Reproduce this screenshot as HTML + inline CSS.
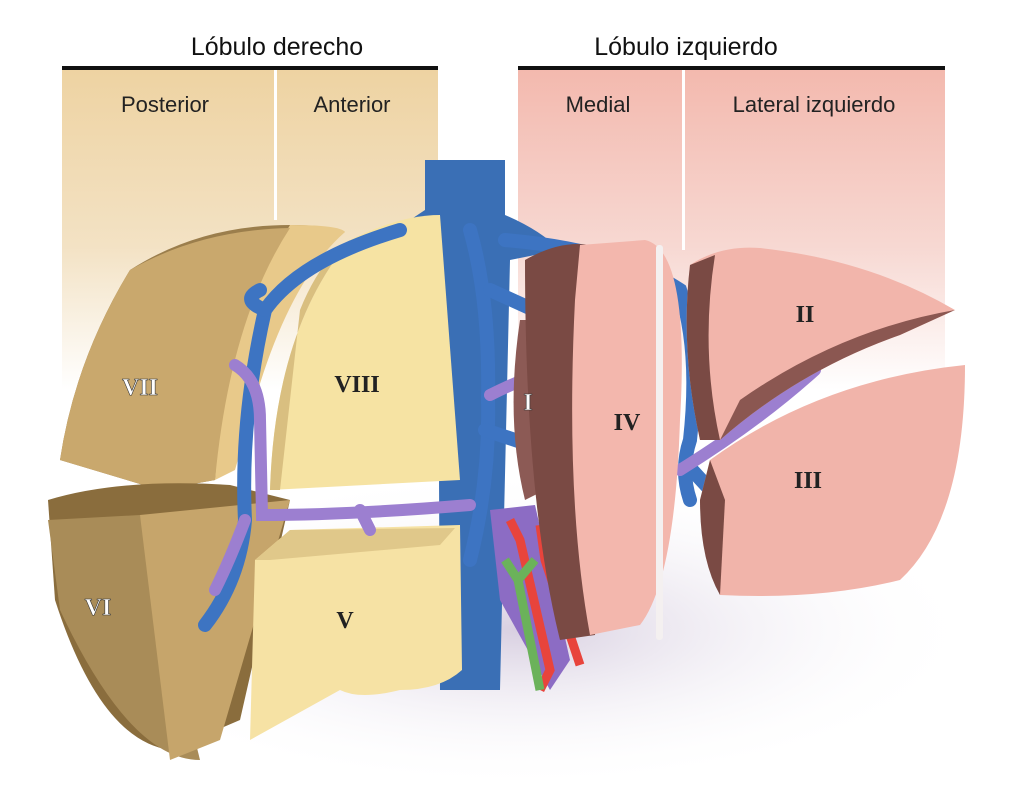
<!DOCTYPE html>
<html><head><meta charset="utf-8"><style>
html,body{margin:0;padding:0;background:#fff;width:1026px;height:800px;overflow:hidden}
svg{display:block}
text{font-family:"Liberation Sans",sans-serif}
.r{font-family:"Liberation Serif",serif;font-weight:bold;fill:#fff;font-size:24px;text-anchor:middle;stroke:#333;stroke-width:0.6}
.rd{font-family:"Liberation Serif",serif;font-weight:bold;fill:#222;font-size:24px;text-anchor:middle}
</style></head><body>
<svg width="1026" height="800" viewBox="0 0 1026 800">
<defs>
<linearGradient id="tan" x1="0" y1="0" x2="0" y2="1"><stop offset="0" stop-color="#eed3a2"/><stop offset="0.55" stop-color="#f3e2c4"/><stop offset="1" stop-color="#fff"/></linearGradient>
<linearGradient id="pnk" x1="0" y1="0" x2="0" y2="1"><stop offset="0" stop-color="#f3b9ae"/><stop offset="0.55" stop-color="#f7d8d2"/><stop offset="1" stop-color="#fff"/></linearGradient>
<radialGradient id="sh" cx="0.5" cy="0.5" r="0.5"><stop offset="0" stop-color="#b8a8c8" stop-opacity="0.55"/><stop offset="1" stop-color="#fff" stop-opacity="0"/></radialGradient>
</defs>
<rect x="62" y="70" width="376" height="320" fill="url(#tan)"/>
<rect x="518" y="70" width="427" height="320" fill="url(#pnk)"/>
<rect x="274" y="70" width="3" height="150" fill="#fff"/>
<rect x="682" y="70" width="3" height="180" fill="#fff"/>
<rect x="62" y="66" width="376" height="4" fill="#111"/>
<rect x="518" y="66" width="427" height="4" fill="#111"/>
<text x="277" y="55" font-size="25" text-anchor="middle" fill="#111">Lóbulo derecho</text>
<text x="686" y="55" font-size="25" text-anchor="middle" fill="#111">Lóbulo izquierdo</text>
<text x="165" y="112" font-size="22" text-anchor="middle" fill="#222">Posterior</text>
<text x="352" y="112" font-size="22" text-anchor="middle" fill="#222">Anterior</text>
<text x="598" y="112" font-size="22" text-anchor="middle" fill="#222">Medial</text>
<text x="814" y="112" font-size="22" text-anchor="middle" fill="#222">Lateral izquierdo</text>
<ellipse cx="520" cy="630" rx="460" ry="160" fill="url(#sh)"/>
<!-- IVC -->
<path d="M425 160 L505 160 L505 215 Q540 230 560 250 L510 260 L500 690 L440 690 L438 260 L380 240 Q410 220 425 210 Z" fill="#3a6fb5"/>
<!-- VII -->
<path d="M130 270 Q200 225 290 225 Q330 225 345 232 L300 245 Q240 320 215 480 L160 490 L60 460 Q75 360 130 270Z" fill="#9b7e4c"/>
<path d="M290 225 Q340 225 345 232 Q290 280 255 400 L235 470 L215 480 Q225 330 290 225Z" fill="#e8c98a"/>
<path d="M130 270 Q200 230 290 228 Q230 320 215 480 L160 490 L60 460 Q75 360 130 270Z" fill="#c9a86d"/>
<!-- VI -->
<path d="M48 500 Q120 478 230 485 L290 500 L240 720 L170 750 Q100 740 55 600Z" fill="#8a6d3d"/>
<path d="M48 520 L140 515 L200 760 Q130 760 60 610Z" fill="#a98c58"/>
<path d="M140 515 L290 500 L220 740 L170 760Z" fill="#c6a56b"/>
<!-- VIII -->
<path d="M350 240 Q400 215 440 215 L460 480 L270 490 Q275 330 350 240Z" fill="#f6e3a3"/>
<path d="M350 240 Q320 260 300 310 L280 490 L270 490 Q275 330 350 240Z" fill="#d9bf80"/>
<!-- V -->
<path d="M255 560 L290 530 L460 525 L462 670 Q440 690 400 690 Q360 700 340 690 L250 740Z" fill="#f6e2a4"/>
<path d="M255 560 L290 530 L455 528 L440 545 L270 560Z" fill="#e0c88a"/>
<!-- veins blue -->
<g fill="none" stroke="#3d74c2" stroke-width="14" stroke-linecap="round">
<path d="M400 230 Q300 260 265 310 Q240 420 245 520 Q240 580 205 625"/>
<path d="M265 310 Q240 300 260 290"/>
<path d="M470 230 Q490 300 488 400 Q490 480 470 560"/>
<path d="M485 430 L560 455"/>
<path d="M490 290 L545 315"/>
<path d="M505 240 Q620 250 680 290 Q700 350 690 440 Q680 470 690 500"/>
<path d="M690 330 Q710 320 705 305"/>
<path d="M692 470 L715 495"/>
</g>
<!-- portal purple -->
<g fill="none" stroke="#9c7fd0" stroke-width="12" stroke-linecap="round">
<path d="M235 365 Q260 380 260 420 L262 515 Q350 515 470 505"/>
<path d="M360 510 L370 530"/>
<path d="M245 520 Q230 560 215 590"/>
<path d="M490 395 Q530 375 555 370"/>
<path d="M680 470 Q760 420 815 370"/>
</g>
<path d="M490 510 L535 505 L570 660 L550 690 L500 600Z" fill="#8c6cc4"/>
<path d="M510 520 L520 540 L550 670 L540 690" stroke="#e8443c" stroke-width="9" fill="none"/>
<path d="M540 525 L545 560 L580 665" stroke="#e8443c" stroke-width="9" fill="none"/>
<path d="M505 560 L518 580 L535 560 M518 580 L540 690" stroke="#6bb25a" stroke-width="9" fill="none"/>
<!-- I -->
<path d="M520 320 L540 320 L545 490 L525 500 Q505 420 520 320Z" fill="#8c5a55"/>
<!-- IV -->
<path d="M525 260 Q560 240 590 245 L635 245 L595 635 L560 640 Q525 500 525 260Z" fill="#7a4a44"/>
<path d="M580 245 L645 240 Q690 250 680 420 Q675 580 640 625 L590 635 Q565 500 575 300Z" fill="#f3b7ad"/>
<rect x="656" y="245" width="7" height="395" rx="3" fill="#f4f0f0"/>
<!-- II -->
<path d="M690 265 Q720 245 760 248 Q870 260 955 310 L900 335 Q800 370 720 440 L700 440 Q680 350 690 265Z" fill="#f2b5ab"/>
<path d="M690 265 L715 255 Q700 350 720 440 L700 440 Q680 350 690 265Z" fill="#7a4a44"/>
<path d="M955 310 L900 335 Q800 370 720 440 L740 400 Q840 330 955 310Z" fill="#8b5751"/>
<!-- III -->
<path d="M710 460 Q820 380 965 365 Q965 520 900 580 Q820 600 720 595 L700 500Z" fill="#f1b4aa"/>
<path d="M700 500 L710 460 L725 500 L720 595 Q700 560 700 500Z" fill="#7a4a44"/>
<text class="r" x="140" y="395">VII</text>
<text class="rd" x="357" y="392">VIII</text>
<text class="r" x="98" y="615">VI</text>
<text class="rd" x="345" y="628">V</text>
<text class="r" x="528" y="410">I</text>
<text class="rd" x="627" y="430">IV</text>
<text class="rd" x="805" y="322">II</text>
<text class="rd" x="808" y="488">III</text>
</svg>
</body></html>
